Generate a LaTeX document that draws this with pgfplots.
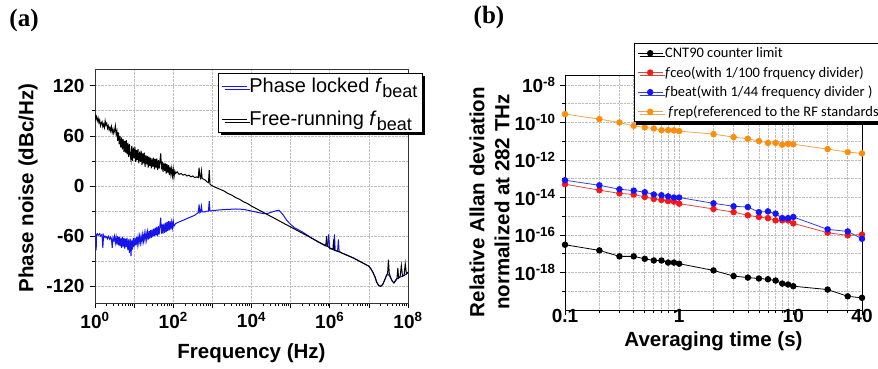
\documentclass[border=0pt]{standalone}
\usepackage{pgfplots}
\pgfplotsset{compat=1.18}
\usepackage{pgfplotstable}
\usepackage{fontspec}
\setmainfont{Liberation Sans}
\newfontfamily\calfont{Carlito}
\newfontfamily\serfont{Liberation Serif}
\usetikzlibrary{shadows}

\definecolor{pblue}{RGB}{20,20,235}
\definecolor{gridc}{RGB}{190,190,190}
\definecolor{ored}{RGB}{255,20,20}
\definecolor{oredl}{RGB}{215,70,70}
\definecolor{oblue}{RGB}{20,20,255}
\definecolor{obluel}{RGB}{60,60,215}
\definecolor{oorange}{RGB}{255,140,10}
\definecolor{oorangel}{RGB}{235,165,80}

\newcommand{\pw}[1]{10\textsuperscript{#1}}

% panel (a): free-running beat, log10(f) and dBc/Hz
\pgfplotstableread{
lf v
0.00 86
0.02 80
0.04 83
0.06 78
0.08 81
0.10 76
0.12 79
0.14 72
0.16 75
0.18 77
0.20 71
0.22 74
0.24 70
0.26 78
0.28 73
0.30 75
0.32 69
0.34 72
0.36 67
0.38 70
0.40 66
0.42 71
0.44 64
0.46 68
0.48 63
0.50 66
0.52 72
0.54 62
0.56 66
0.58 54
0.60 64
0.62 50
0.64 60
0.66 46
0.68 58
0.70 44
0.72 56
0.74 41
0.76 54
0.78 40
0.80 55
0.82 38
0.84 52
0.86 35
0.88 50
0.90 37
0.92 31
0.94 48
0.96 30
0.98 46
1.00 33
1.02 47
1.04 29
1.06 43
1.08 31
1.10 44
1.12 27
1.14 41
1.16 29
1.18 42
1.20 25
1.22 39
1.24 27
1.26 40
1.28 23
1.30 37
1.32 26
1.34 36
1.36 22
1.38 35
1.40 24
1.42 34
1.44 21
1.46 33
1.48 23
1.50 34
1.52 20
1.54 32
1.56 22
1.58 33
1.60 19
1.62 31
1.64 21
1.66 30
1.68 39
1.70 20
1.72 29
1.74 17
1.76 28
1.78 18
1.80 27
1.82 15
1.84 26
1.86 16
1.88 25
1.90 13
1.92 23
1.94 14
1.96 21
1.98 12
2.00 20
2.02 11
2.04 18
2.06 15
2.10 17
2.15 14
2.20 15
2.25 13
2.30 14
2.35 12
2.40 13
2.45 11
2.50 12
2.55 10
2.60 11
2.64 10
2.66 22
2.68 11
2.70 9
2.72 18
2.74 9
2.78 8
2.82 7
2.86 5
2.90 4
2.92 19
2.94 2
2.97 1
3.00 0
3.10 -2
3.20 -4
3.30 -6
3.40 -9
3.50 -11
3.60 -14
3.70 -16
3.80 -19
3.90 -21
4.00 -24
4.20 -29
4.40 -34
4.60 -39
4.80 -44
5.00 -49
5.20 -54
5.40 -59
5.60 -64
5.80 -69
5.90 -71
5.92 -60
5.94 -72
6.00 -74
6.08 -76
6.10 -64
6.12 -77
6.20 -78
6.40 -82
6.60 -86
6.80 -91
7.00 -96
7.05 -99
7.10 -103
7.15 -108
7.20 -115
7.25 -119
7.30 -120
7.35 -118
7.40 -113
7.45 -107
7.48 -104
7.50 -88
7.52 -104
7.56 -110
7.60 -114
7.64 -116
7.68 -113
7.72 -110
7.74 -98
7.76 -110
7.80 -108
7.83 -95
7.86 -108
7.90 -107
7.93 -93
7.96 -105
8.00 -103
}\freerun

% panel (a): phase-locked beat
\pgfplotstableread{
lf v
0.00 -57
0.02 -58
0.03 -77
0.04 -58
0.06 -57
0.08 -59
0.10 -58
0.12 -57
0.14 -60
0.16 -59
0.18 -58
0.20 -74
0.22 -59
0.24 -61
0.26 -60
0.28 -62
0.30 -61
0.32 -63
0.34 -60
0.36 -62
0.38 -64
0.40 -61
0.42 -63
0.44 -74
0.46 -62
0.48 -65
0.50 -60
0.52 -68
0.54 -61
0.56 -70
0.58 -60
0.60 -71
0.62 -61
0.64 -72
0.66 -62
0.68 -74
0.70 -61
0.72 -73
0.74 -62
0.76 -75
0.78 -63
0.80 -73
0.82 -62
0.84 -77
0.86 -64
0.88 -80
0.90 -63
0.92 -84
0.94 -65
0.96 -76
0.98 -62
1.00 -73
1.02 -62
1.04 -71
1.06 -61
1.08 -70
1.10 -61
1.12 -69
1.14 -60
1.16 -68
1.18 -60
1.20 -67
1.22 -58
1.24 -66
1.26 -57
1.28 -65
1.30 -56
1.32 -64
1.34 -55
1.36 -64
1.38 -54
1.40 -63
1.42 -53
1.44 -62
1.46 -52
1.48 -61
1.50 -51
1.52 -60
1.54 -50
1.56 -59
1.58 -49
1.60 -60
1.62 -48
1.64 -58
1.66 -47
1.68 -38
1.70 -57
1.72 -46
1.74 -57
1.76 -45
1.78 -56
1.80 -44
1.82 -55
1.84 -43
1.86 -54
1.88 -42
1.90 -53
1.92 -42
1.94 -52
1.96 -43
1.98 -50
2.00 -42
2.02 -48
2.06 -45
2.10 -44
2.15 -43
2.20 -42
2.25 -41
2.30 -40
2.35 -39
2.40 -38
2.45 -37
2.50 -36
2.55 -35
2.60 -33
2.64 -32
2.66 -22
2.68 -32
2.70 -31
2.72 -24
2.74 -31
2.80 -31
2.86 -30
2.90 -30
2.92 -18
2.94 -30
3.00 -29.5
3.20 -28.5
3.40 -28
3.60 -27.5
3.80 -28
4.00 -30
4.20 -32
4.30 -33
4.40 -33
4.50 -31.5
4.60 -30
4.70 -29
4.80 -34
4.90 -41
5.00 -46
5.10 -50
5.30 -55
5.50 -61
5.70 -67
5.90 -72
5.95 -72
5.97 -58
6.00 -75
6.10 -76
6.12 -58
6.14 -77
6.20 -78
6.22 -64
6.24 -78
6.30 -80
6.40 -82
6.60 -86
6.80 -91
7.00 -96
7.05 -99
7.10 -103
7.15 -108
7.20 -115
7.25 -119
7.30 -120
7.35 -118
7.40 -113
7.45 -107
7.50 -106
7.56 -110
7.60 -114
7.64 -116
7.68 -114
7.72 -111
7.80 -109
7.90 -107
8.00 -104
}\locked

% panel (b): Allan deviations
\pgfplotstableread{
t cnt fceo fbeat frep
0.1 3.02e-17 5.13e-14 8.32e-14 2.82e-10
0.2 1.51e-17 2.45e-14 4.47e-14 1.51e-10
0.3 7.24e-18 1.66e-14 2.75e-14 1.00e-10
0.4 7.24e-18 1.45e-14 2.34e-14 6.61e-11
0.5 5.37e-18 1.07e-14 1.91e-14 5.50e-11
0.6 4.37e-18 8.32e-15 1.45e-14 4.79e-11
0.7 4.37e-18 7.41e-15 1.32e-14 3.89e-11
0.8 3.39e-18 6.46e-15 1.15e-14 3.89e-11
0.9 3.39e-18 6.03e-15 1.00e-14 3.80e-11
1   2.95e-18 4.68e-15 1.00e-14 3.47e-11
2   1.29e-18 2.45e-15 4.90e-15 2.40e-11
3   6.46e-19 1.66e-15 3.39e-15 1.66e-11
4   5.37e-19 1.12e-15 3.09e-15 1.35e-11
5   4.79e-19 9.12e-16 1.66e-15 1.02e-11
6   4.37e-19 7.94e-16 1.82e-15 8.13e-12
7   3.72e-19 6.03e-16 1.38e-15 8.13e-12
8   2.57e-19 6.03e-16 7.94e-16 6.46e-12
9   2.29e-19 6.03e-16 7.94e-16 7.24e-12
10  1.86e-19 4.17e-16 9.12e-16 6.92e-12
20  1.23e-19 1.32e-16 2.00e-16 3.80e-12
30  5.37e-20 9.55e-17 1.55e-16 2.63e-12
40  4.47e-20 1.05e-16 6.31e-17 2.24e-12
}\allan

\begin{document}
\begin{tikzpicture}[x=1pt,y=1pt]
% ---------------- panel (a)
\begin{axis}[
  at={(95pt,65pt)}, anchor=south west,
  scale only axis, width=313pt, height=234pt,
  xmode=log, xmin=1, xmax=1e8,
  ymin=-140, ymax=140,
  log basis x=10,
  xtick={1,10,100,1e3,1e4,1e5,1e6,1e7,1e8},
  xticklabels={\pw{0},,\pw{2},,\pw{4},,\pw{6},,\pw{8}},
  minor xtick={2,3,4,5,6,7,8,9,20,30,40,50,60,70,80,90,200,300,400,500,600,700,800,900,
    2e3,3e3,4e3,5e3,6e3,7e3,8e3,9e3,2e4,3e4,4e4,5e4,6e4,7e4,8e4,9e4,
    2e5,3e5,4e5,5e5,6e5,7e5,8e5,9e5,2e6,3e6,4e6,5e6,6e6,7e6,8e6,9e6,
    2e7,3e7,4e7,5e7,6e7,7e7,8e7,9e7},
  ytick={-120,-60,0,60,120},
  yticklabels={-120,-60,0,60,120},
  minor ytick={-90,-30,30,90},
  xmajorgrids, ymajorgrids, yminorgrids,
  major grid style={densely dotted, gridc, line width=0.7pt},
  minor grid style={densely dotted, gridc, line width=0.7pt},
  tick align=outside, xtick pos=bottom, ytick pos=left,
  major tick length=5pt, minor tick length=3pt,
  every tick/.style={black, line width=0.7pt},
  axis line style={black!80, line width=0.9pt},
  tick label style={font=\bfseries\fontsize{19}{19}\selectfont},
  /pgf/number format/assume math mode=true,
  xticklabel style={yshift=-1pt},
  yticklabel style={xshift=-2pt},
  legend cell align=left,
  legend style={at={(0.393,0.983)}, anchor=north west,
    draw=black, line width=0.8pt, fill=white,
    drop shadow={shadow xshift=3pt, shadow yshift=-3pt, fill=black, opacity=1},
    font=\fontsize{20}{22}\selectfont, inner xsep=3pt, inner ysep=3pt,
    row sep=13pt},
  legend image code/.code={\draw[#1, line width=1pt] (0pt,0pt) -- (25pt,0pt);},
]
\addplot[pblue, line width=1pt] table[x expr={10^(\thisrow{lf})}, y=v] {\locked};
\addlegendentry{Phase locked \textit{f}\raisebox{-0.45ex}{\fontsize{18}{18}\selectfont beat}}
\addplot[black, line width=1pt] table[x expr={10^(\thisrow{lf})}, y=v] {\freerun};
\addlegendentry{Free-running \textit{f}\raisebox{-0.45ex}{\fontsize{18}{18}\selectfont beat}}
\end{axis}

% ---------------- panel (b)
\begin{axis}[
  at={(565pt,58pt)}, anchor=south west,
  scale only axis, width=297pt, height=235pt,
  xmode=log, ymode=log,
  xmin=0.1, xmax=40, ymin=1e-20, ymax=3.4e-8,
  xtick={0.1,1,10,40},
  xticklabels={0.1,1,10,40},
  minor xtick={0.2,0.3,0.4,0.5,0.6,0.7,0.8,0.9,2,3,4,5,6,7,8,9,20,30},
  ytick={1e-18,1e-16,1e-14,1e-12,1e-10,1e-8},
  yticklabels={\pw{-18},\pw{-16},\pw{-14},\pw{-12},\pw{-10},\pw{-8}},
  minor ytick={1e-19,1e-17,1e-15,1e-13,1e-11,1e-9},
  grid=both,
  major grid style={densely dotted, gridc, line width=0.7pt},
  minor grid style={densely dotted, gridc, line width=0.7pt},
  tick align=outside, xtick pos=bottom, ytick pos=left,
  major tick length=5pt, minor tick length=3pt,
  every tick/.style={black, line width=0.7pt},
  axis line style={black, line width=0.9pt},
  tick label style={font=\bfseries\fontsize{19}{19}\selectfont},
  /pgf/number format/assume math mode=true,
  xticklabel style={yshift=9pt},
  yticklabel style={xshift=-1pt},
  legend cell align=left,
  legend style={at={(0.232,1.136)}, anchor=north west,
    draw=black, line width=0.8pt, fill=white,
    drop shadow={shadow xshift=2pt, shadow yshift=-3pt, fill=black, opacity=1},
    font=\calfont\fontsize{14.5}{15}\selectfont, inner xsep=3pt, inner ysep=2pt,
    row sep=3.5pt},
  legend image code/.code={\draw[#1, mark repeat=2, mark phase=2]
     plot coordinates {(0pt,0pt) (12.5pt,0pt) (25pt,0pt)};},
]
\addplot[black, line width=0.8pt, mark=*, mark size=2.8pt, mark options={fill=black, draw=black}]
  table[x=t, y=cnt] {\allan};
\addlegendentry{CNT90 counter limit}
\addplot[oredl, line width=0.8pt, mark=*, mark size=2.8pt, mark options={fill=ored, draw=ored}]
  table[x=t, y=fceo] {\allan};
\addlegendentry{\textit{f}ceo(with 1/100 frquency divider)}
\addplot[obluel, line width=0.8pt, mark=*, mark size=2.8pt, mark options={fill=oblue, draw=oblue}]
  table[x=t, y=fbeat] {\allan};
\addlegendentry{\textit{f}beat(with 1/44 frequency divider )}
\addplot[oorangel, line width=0.8pt, mark=*, mark size=2.8pt, mark options={fill=oorange, draw=oorange}]
  table[x=t, y=frep] {\allan};
\addlegendentry{\ \textit{f}rep(referenced to the RF standards)}
\end{axis}

% ---------------- labels
\node[font=\bfseries\fontsize{20.5}{20.5}\selectfont] at (251.5pt,15pt) {Frequency (Hz)};
\node[font=\bfseries\fontsize{20.5}{20.5}\selectfont, rotate=90] at (28pt,180pt) {Phase noise (dBc/Hz)};
\node[font=\bfseries\fontsize{20.5}{20.5}\selectfont] at (713.5pt,27pt) {Averaging time (s)};
\node[font=\bfseries\fontsize{20.5}{25}\selectfont, rotate=90, align=center] at (489.5pt,166pt)
  {Relative Allan deviation\\normalized at 282 THz};
\node[font=\serfont\bfseries\fontsize{25}{25}\selectfont] at (24pt,348pt) {(a)};
\node[font=\serfont\bfseries\fontsize{25}{25}\selectfont] at (489pt,350.5pt) {(b)};

\pgfresetboundingbox
\path (0pt,0pt) rectangle (878pt,368pt);
\end{tikzpicture}
\end{document}
